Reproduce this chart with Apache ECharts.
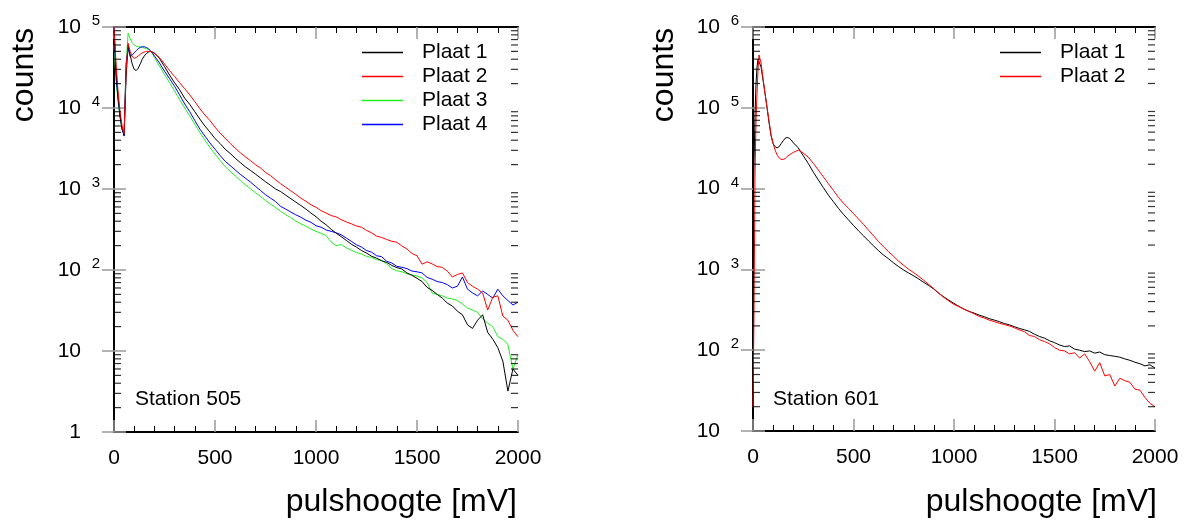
<!DOCTYPE html>
<html><head><meta charset="utf-8">
<script src="https://cdn.jsdelivr.net/npm/echarts@6/dist/echarts.min.js"></script>
<style>html,body{margin:0;padding:0;background:#fff}#c{width:1184px;height:520px}</style>
</head><body><div id="c"></div><script>
// ---------- data: Station 505 ----------
const xs505 = [0,10,20,30,40,50,60,70,80,90,100,110,120,130,140,150,160,170,180,190,200,
225,250,275,300,325,350,375,400,
425,450,475,500,525,550,575,600,
625,650,675,700,725,750,775,800,
825,850,875,900,925,950,975,1000,
1025,1050,1075,1100,1125,1150,1175,1200,
1225,1250,1275,1300,1325,1350,1375,1400,
1425,1450,1475,1500,1525,1550,1575,1600,
1625,1650,1675,1700,1725,1750,1775,1800,
1825,1850,1875,1900,1925,1950,1975,2000];
const plaat1_505 = [90000,30000,14000,8000,5500,4600,25000,60000,45000,35000,30000,29000,31000,35000,40000,44000,47000,49000,50000,49000,48000,
41000,32500,25500,20500,16800,13200,11100,9000,
7300,6000,5050,4200,3650,3100,2750,2400,
2120,1880,1700,1530,1370,1230,1110,1000,
930,840,760,690,625,565,505,455,
400,362,318,285,258,232,208,192,
174,162,148,140,130,124,114,107,
103,92,86,79,72,61,56,50,
45,39,36,31,28,21,19,24,
28,17,14,11,7.5,3.2,6,5];
const plaat2_505 = [100000,35000,16000,9000,6000,4800,30000,63000,50000,43000,41000,42000,44000,46000,48000,49000,50000,50000,50000,49000,47000,
42000,35000,29000,24500,20500,17300,14500,12000,
9800,8200,7000,5800,4900,4250,3650,3200,
2800,2500,2250,2000,1820,1600,1460,1300,
1160,1050,950,860,770,705,640,595,
540,505,470,452,418,392,372,350,
338,308,288,262,252,238,226,220,
198,182,160,150,118,126,119,110,
108,97,82,88,92,70,63,58,
52,32,46,48,27,24,18,15];
const plaat3_505 = [60000,22000,12000,7500,5500,5000,35000,84000,72000,64000,60000,58000,57000,57000,56000,55000,54000,53000,51000,47000,42000,
33000,26000,20500,16200,12700,10000,8000,6300,
5000,4000,3250,2700,2250,1900,1650,1450,
1280,1130,1010,900,810,720,650,590,
530,480,445,400,372,348,320,300,
284,266,222,200,206,188,176,164,
158,147,143,134,131,119,104,98,
95,90,87,84,80,70,52,50,
48,45,44,42,38,34,32,30,
25,22,20,15,14,12,6,9];
const plaat4_505 = [100000,25000,13000,8000,5500,4500,35000,55000,43000,45000,48000,51000,54000,56000,57000,57000,56000,54000,51000,48000,44000,
36000,28500,23000,18500,14500,11200,9000,7000,
5500,4500,3700,3100,2600,2200,1950,1720,
1520,1360,1220,1080,960,850,770,700,
610,565,520,480,448,412,388,352,
338,312,300,288,272,248,226,205,
192,174,166,150,146,128,122,111,
108,104,97,95,92,81,77,72,
70,66,60,63,82,58,52,48,
55,50,45,58,48,42,37,40];

// ---------- data: Station 601 ----------
const xs601 = [0,5,10,15,20,25,30,40,50,60,70,80,90,100,110,120,130,140,150,160,170,180,190,200,
225,250,275,300,325,350,375,400,
425,450,475,500,525,550,575,600,
625,650,675,700,725,750,775,800,
825,850,875,900,925,950,975,1000,
1025,1050,1075,1100,1125,1150,1175,1200,
1225,1250,1275,1300,1325,1350,1375,1400,
1425,1450,1475,1500,1525,1550,1575,1600,
1625,1650,1675,1700,1725,1750,1775,1800,
1825,1850,1875,1900,1925,1950,1975,2000];
const plaat1_601 = [5000,20000,80000,200000,320000,400000,410000,320000,220000,150000,100000,65000,45000,36000,33000,32000,33000,36000,39000,42000,43000,42000,40000,37000,
32000,25500,20500,16000,12800,10300,8300,6900,
5700,4800,4100,3500,3000,2600,2250,1950,
1700,1500,1350,1200,1080,980,900,830,
760,690,630,570,505,455,415,380,
348,322,302,288,272,260,246,236,
226,214,206,196,186,179,171,158,
148,141,131,124,116,111,113,103,
100,96,98,92,95,88,86,84,
82,78,75,71,68,64,66,60];
const plaat2_601 = [20,300,15000,70000,150000,300000,450000,360000,230000,150000,100000,68000,46000,36000,30000,26000,24000,23000,23000,23500,25000,26000,27000,28000,
30000,27500,24500,20500,17000,14000,11500,9500,
7800,6600,5700,4900,4200,3600,3050,2600,
2200,1900,1650,1450,1260,1120,1000,910,
820,730,650,575,505,450,405,368,
345,322,302,282,262,250,236,226,
216,208,200,190,178,170,152,148,
135,128,120,108,100,98,90,93,
80,90,72,55,70,48,50,36,
45,42,40,33,32,26,22,20];

const legend505 = ['Plaat 1','Plaat 2','Plaat 3','Plaat 4'];
const legend601 = ['Plaat 1','Plaat 2'];
const xTickMax = 2000;

// ---------- helpers ----------
const FONT = '"Liberation Sans", Arial, Helvetica, sans-serif';
function pairs(xs, ys){ return xs.map((x,i)=>[x, ys[i]]); }
function expLabel(v){
  const e = Math.round(Math.log10(v));
  if (e === 0) return '{b|1}{s| }';
  if (e === 1) return '{b|10}{s| }';
  return '{b|10}{s|' + e + '}';
}
const labelRich = {
  b:{fontSize:21, fontFamily:FONT, color:'#000', lineHeight:21},
  s:{fontSize:15, fontFamily:FONT, color:'#000', width:11, padding:[0,0,12,8], verticalAlign:'middle', lineHeight:15}
};
function minorTicks(lo, hi){
  const out = [];
  for (let e = lo; e < hi; e++) for (let m = 2; m <= 9; m++) out.push(m*Math.pow(10,e));
  return out;
}
const frame = {show:true, lineStyle:{color:'#000', width:2}};
function xAx(gi, pos){
  return {gridIndex:gi, type:'value', position:pos, min:0, max:xTickMax, interval:500,
    axisLine:frame,
    axisTick:{show:true, inside:true, length:12, lineStyle:{color:'#999', width:1.5}},
    minorTick:{show:true, splitNumber:5, length:6, lineStyle:{color:'#000', width:1}},
    axisLabel:{show:pos==='bottom', fontSize:21, fontFamily:FONT, color:'#000', margin:16, formatter:v=>String(v)},
    splitLine:{show:false}};
}
function yAx(gi, pos, mn, mx){
  return {gridIndex:gi, type:'log', logBase:10, position:pos, min:mn, max:mx, splitNumber:5,
    axisLine:frame,
    axisTick:{show:true, inside:true, length:12, lineStyle:{color:'#999', width:1.5}},
    axisLabel:{show:pos==='left', formatter:expLabel, rich:labelRich, margin:14},
    splitLine:{show:false}};
}
function line(name, xi, yi, xs, ys, color){
  return {type:'line', name:name, xAxisIndex:xi, yAxisIndex:yi, data:pairs(xs, ys),
    symbol:'none', showSymbol:false, lineStyle:{width:1, color:color}, itemStyle:{color:color}, z:3};
}
function tickSeries(xi, yi, xv, vals, off){
  return {type:'scatter', xAxisIndex:xi, yAxisIndex:yi, data:vals.map(v=>[xv, v]),
    symbol:'rect', symbolSize:[7,1.2], symbolOffset:[off,0], itemStyle:{color:'#000'},
    silent:true, clip:false, z:6};
}
const legendBase = {orient:'vertical', icon:'rect', itemWidth:41, itemHeight:1.5, itemGap:3,
  textStyle:{fontSize:21, fontFamily:FONT, color:'#000', padding:[0,0,0,14]}, selectedMode:false};

const option = {
  animation:false,
  backgroundColor:'#fff',
  grid:[{left:114, top:27, width:404, height:405}, {left:753, top:27, width:402, height:404}],
  xAxis:[xAx(0,'bottom'), xAx(0,'top'), xAx(1,'bottom'), xAx(1,'top')],
  yAxis:[yAx(0,'left',1,1e5), yAx(0,'right',1,1e5), yAx(1,'left',10,1e6), yAx(1,'right',10,1e6)],
  legend:[Object.assign({}, legendBase, {data:legend505, left:357, top:37}),
          Object.assign({}, legendBase, {data:legend601, left:995, top:37})],
  series:[
    line('Plaat 3',0,0,xs505,plaat3_505,'#22ee22'),
    line('Plaat 4',0,0,xs505,plaat4_505,'#0000ff'),
    line('Plaat 1',0,0,xs505,plaat1_505,'#000000'),
    line('Plaat 2',0,0,xs505,plaat2_505,'#ff0000'),
    line('Plaat 1',2,2,xs601,plaat1_601,'#000000'),
    line('Plaat 2',2,2,xs601,plaat2_601,'#ff0000'),
    tickSeries(0,0,0,minorTicks(0,5),3.5),
    tickSeries(0,0,xTickMax,minorTicks(0,5),-3.5),
    tickSeries(2,2,0,minorTicks(1,6),3.5),
    tickSeries(2,2,xTickMax,minorTicks(1,6),-3.5)
  ],
  graphic:[
    {type:'text', x:24, y:75, rotation:Math.PI/2, style:{text:'counts', font:'32px '+FONT, fill:'#000', align:'center', verticalAlign:'middle'}},
    {type:'text', x:664, y:75, rotation:Math.PI/2, style:{text:'counts', font:'32px '+FONT, fill:'#000', align:'center', verticalAlign:'middle'}},
    {type:'text', x:517, y:502, style:{text:'pulshoogte [mV]', font:'32px '+FONT, fill:'#000', align:'right', verticalAlign:'middle'}},
    {type:'text', x:1157, y:502, style:{text:'pulshoogte [mV]', font:'32px '+FONT, fill:'#000', align:'right', verticalAlign:'middle'}},
    {type:'text', x:135, y:399, style:{text:'Station 505', font:'21px '+FONT, fill:'#000', align:'left', verticalAlign:'middle'}},
    {type:'text', x:773, y:399, style:{text:'Station 601', font:'21px '+FONT, fill:'#000', align:'left', verticalAlign:'middle'}}
  ]
};
const chart = echarts.init(document.getElementById('c'), null, {renderer:'canvas'});
chart.setOption(option);
</script></body></html>
